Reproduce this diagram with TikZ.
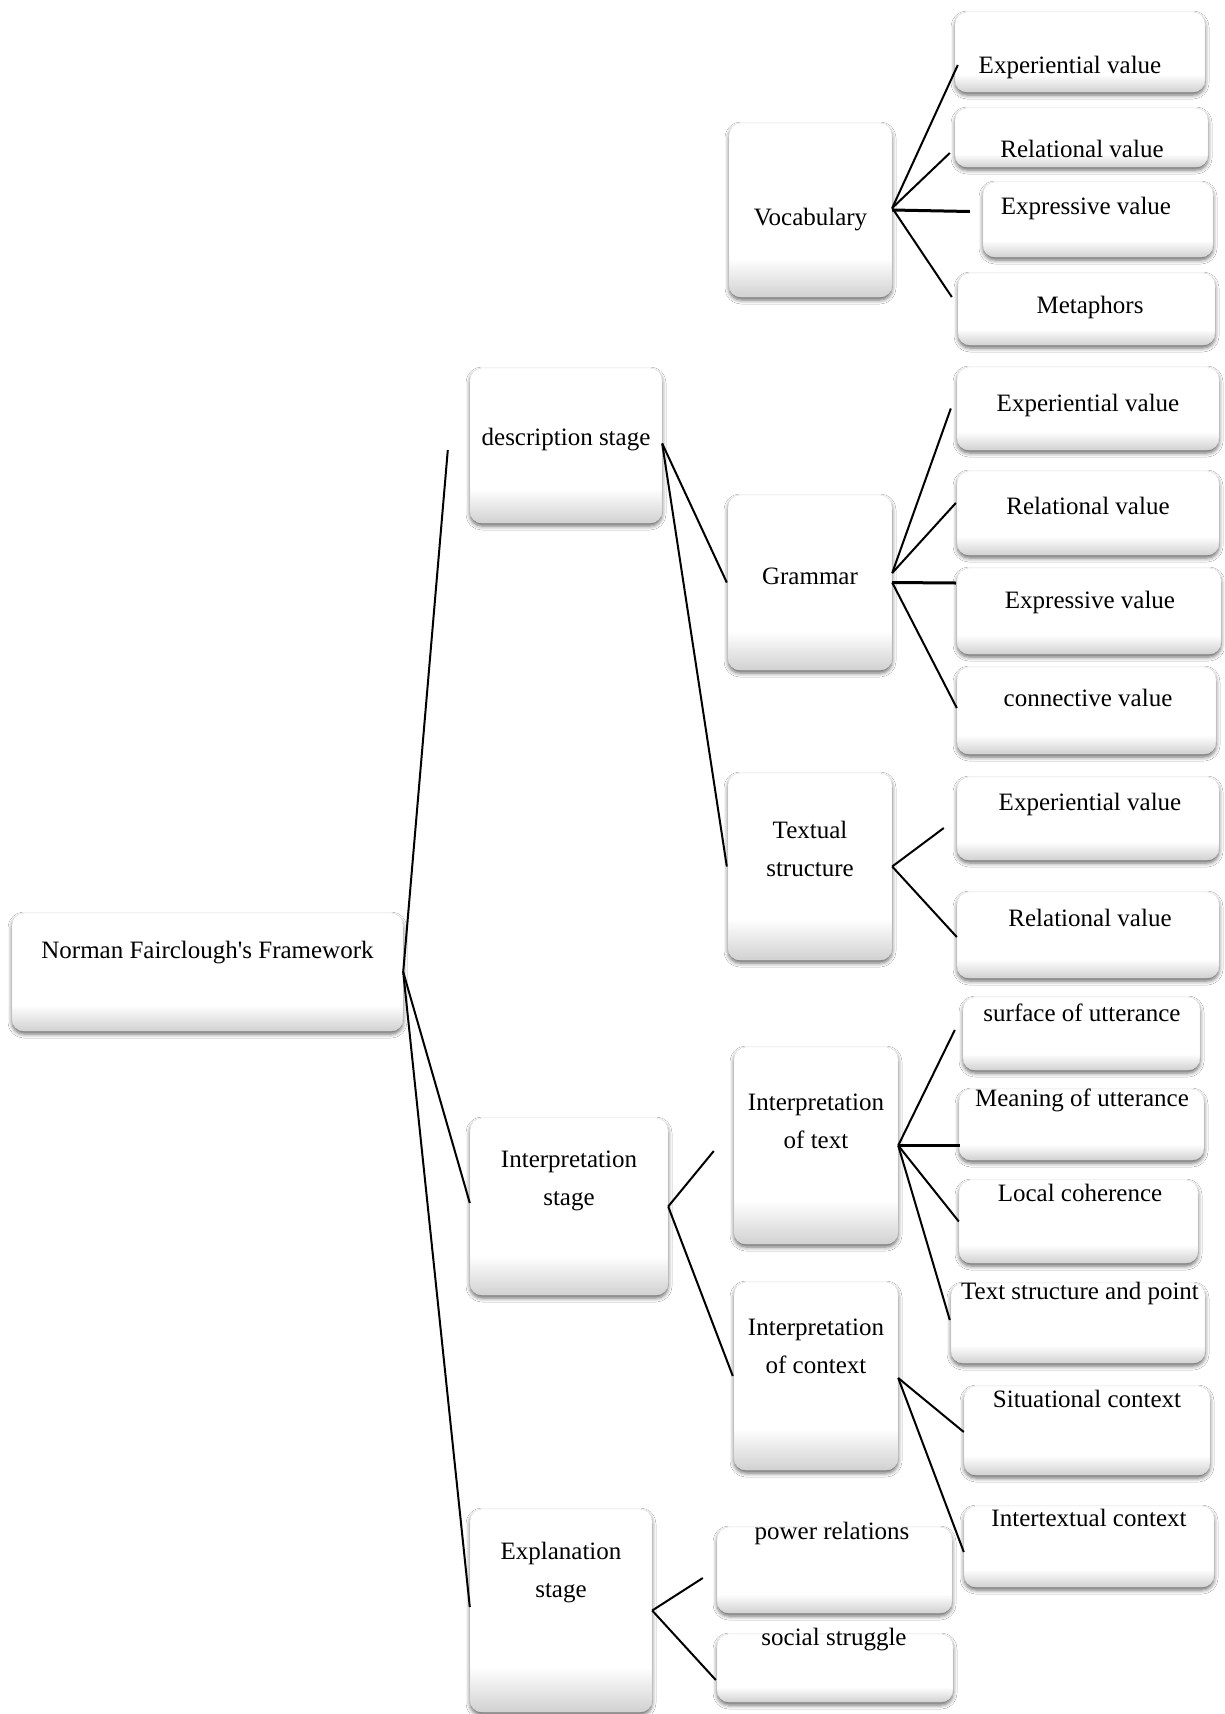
\documentclass[tikz,border=0pt]{standalone}
\usepackage{fontspec}
\setmainfont{Liberation Serif}
\usetikzlibrary{calc,shadows.blur}
\pgfdeclareverticalshading{boxshade}{100bp}{color(0bp)=(black!18); color(25bp)=(black!18); color(36bp)=(white); color(100bp)=(white)}

\begin{document}
\begin{tikzpicture}[
  x=1pt,y=-1pt,
  box/.style={rectangle,rounded corners=12pt,draw=black!12,shading=boxshade,
    blur shadow={shadow xshift=0pt,shadow yshift=-3pt,shadow blur radius=4pt,shadow opacity=60}},
  txt/.style={draw=none,align=center,inner sep=0pt,font=\fontsize{25}{38}\selectfont},
  link/.style={line width=2pt,color=black},
  flat/.style={line width=3pt,color=black},
  ]

  \useasboundingbox[fill=white] (0,0) rectangle (1224,1714);

  %boxes
  \foreach \n/\cx/\cy/\w/\h in {root/207.5/972/391/118, desc/566/445.5/192/155,
      voc/810.5/210/163/174, gram/810/582.5/164/175, textual/810/866.5/164/187,
      intstage/569/1206.5/198/177, inttext/816/1145.5/164/197, intctx/816/1376/164/188,
      expl/561/1610.5/182/203}
   {
     \node (\n) [box,minimum width=\w pt,minimum height=\h pt] at (\cx,\cy) {};
   }

  %leaves
  \foreach \n/\cx/\cy/\w/\h in {v1/1080/52/250/80, v2/1081.5/137.5/253/59, v3/1098/219.5/230/75,
      v4/1086.5/309/257/72, g1/1088/408.5/262/83, g2/1088/513/262/84, g3/1089/611/264/86,
      g4/1086.5/710.5/259/87, t1/1088/818.5/262/83, t2/1088/935/262/86,
      i1/1081.5/1033.5/237/73, i2/1081.5/1124.5/245/71, i3/1078.5/1221.5/239/83,
      i4/1078/1323/254/80, c1/1087/1430.5/246/89, c2/1089/1546.5/250/81,
      e1/834.5/1570/235/86, e2/835/1668/236/68}
   {
     \node (\n) [box,minimum width=\w pt,minimum height=\h pt] at (\cx,\cy) {};
   }

  %labels
  \foreach \n/\tx/\ty/\s in {root/207.5/953/Norman Fairclough\textquotesingle s Framework,
      desc/566/440/description stage, voc/810.5/220/Vocabulary, gram/810/576/Grammar,
      textual/810/849/Textual\\structure, intstage/569/1181/Interpretation\\stage,
      inttext/816/1121.5/Interpretation\\of text, intctx/816/1346/Interpretation\\of context,
      expl/561/1572.5/Explanation\\stage,
      v1/1070/67/Experiential value, v2/1082/149/Relational value, v3/1086/208/Expressive value,
      v4/1090/307/Metaphors, g1/1088/405/Experiential value, g2/1088/506/Relational value,
      g3/1090/602/Expressive value, g4/1088/698/connective value,
      t1/1090/804/Experiential value, t2/1090/918/Relational value,
      i1/1082/1013/surface of utterance, i2/1082/1100/Meaning of utterance,
      i3/1080/1193/Local coherence, i4/1080/1293/Text structure and point,
      c1/1087/1399/Situational context, c2/1089/1518/Intertextual context,
      e1/832/1533/power relations, e2/834/1640/social struggle}
   {
     \node (\n_t) [txt] at (\tx,\ty) {\s};
   }

  %links
  \foreach \a/\ay/\b/\dx/\dy in {root/0/desc/-22/4.5, root/0/intstage/0/-3.5, root/0/expl/0/-3.5,
      desc/-2/gram/-1/0, desc/-2/textual/-1/0,
      voc/-2/v1/3/13, voc/-2/v2/-5/15.5, voc/-2/v4/-6/-12,
      gram/-9.5/g1/-6/0, gram/-9.5/g2/-1/-10, gram/0/g4/0/-2.5,
      textual/0/t1/-13/9.5, textual/0/t2/0/2,
      intstage/0/inttext/-20/5.5, intstage/0/intctx/-1/0,
      inttext/0/i1/-8/-3.5, inttext/0/i3/0/0, inttext/0/i4/-1/-3,
      intctx/2/c1/0/1.5, intctx/2/c2/0/5.5,
      expl/0/e1/-14/8, expl/0/e2/-1/12}
   {
     \draw[link] ($(\a.east)+(0,\ay)$) -- ($(\b.west)+(\dx,\dy)$);
   }

  %straight links
  \draw[flat] (voc.east) -- ($(v3.west)+(-13,-8)$);
  \draw[flat] (gram.east) -- ($(g3.west)+(-1,-28)$);
  \draw[flat] (inttext.east) -- ($(i2.west)+(1,21)$);

\end{tikzpicture}
\end{document}
